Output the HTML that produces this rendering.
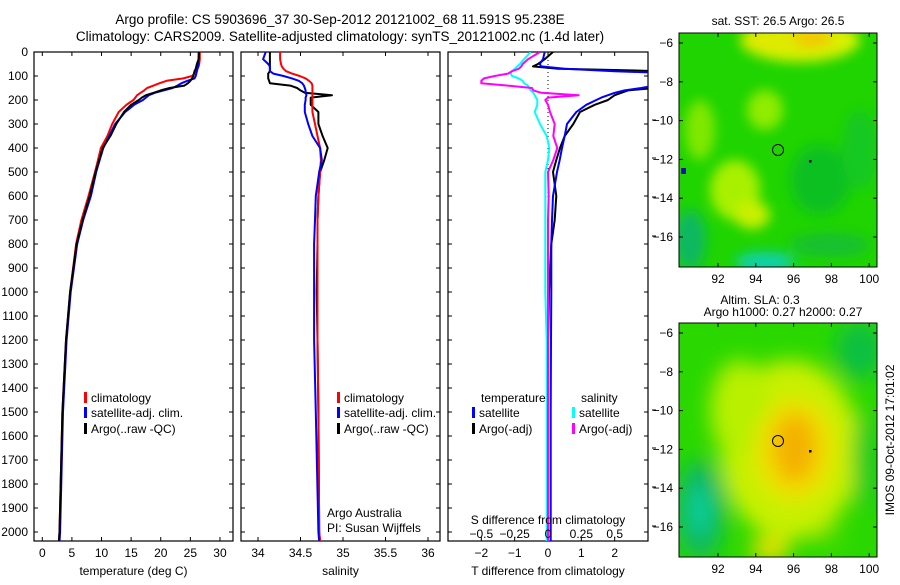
<!DOCTYPE html>
<html><head><meta charset="utf-8"><style>
body{margin:0;background:#fff;}
svg text{font-family:"Liberation Sans",sans-serif;font-size:12px;fill:#000;}
</style></head><body>
<svg id="fig" width="900" height="580" viewBox="0 0 900 580" xmlns="http://www.w3.org/2000/svg">
<defs>
<filter id="bl" x="-50%" y="-50%" width="200%" height="200%"><feGaussianBlur stdDeviation="10"/></filter>
<filter id="bl2" x="-50%" y="-50%" width="200%" height="200%"><feGaussianBlur stdDeviation="6"/></filter>
<clipPath id="cm1"><rect x="679" y="33" width="198" height="234"/></clipPath>
<clipPath id="cm2"><rect x="679" y="323" width="198" height="234"/></clipPath>
</defs>
<text x="340" y="24" text-anchor="middle" font-size="13.5" style="font-size:13.5px">Argo profile: CS 5903696_37 30-Sep-2012 20121002_68 11.591S 95.238E</text>
<text x="340" y="41" text-anchor="middle" style="font-size:13.5px">Climatology: CARS2009. Satellite-adjusted climatology: synTS_20121002.nc (1.4d later)</text>
<g id="plots"></g>
<!-- maps -->
<g clip-path="url(#cm1)">
<rect x="679" y="33" width="198" height="234" fill="#1fd400"/>
<g filter="url(#bl2)">
<ellipse cx="800" cy="40" rx="60" ry="22" fill="#d8f000"/>
<ellipse cx="808" cy="38" rx="25" ry="10" fill="#f2c800"/>
<ellipse cx="770" cy="40" rx="30" ry="8" fill="#e0e800"/>
<ellipse cx="735" cy="190" rx="25" ry="30" fill="#a8f000"/>
<ellipse cx="752" cy="215" rx="18" ry="14" fill="#c8f000"/>
<ellipse cx="765" cy="110" rx="18" ry="20" fill="#90ec00"/>
<ellipse cx="700" cy="130" rx="15" ry="30" fill="#80e800"/>
<ellipse cx="820" cy="180" rx="30" ry="35" fill="#10c020"/>
<ellipse cx="860" cy="150" rx="18" ry="40" fill="#18c820"/>
<ellipse cx="690" cy="240" rx="16" ry="30" fill="#10b860"/>
<ellipse cx="765" cy="262" rx="30" ry="10" fill="#10d0b0"/>
<ellipse cx="830" cy="245" rx="40" ry="12" fill="#18c030"/>
</g>
<rect x="681" y="168" width="5" height="6" fill="#1010b0"/>
</g>
<rect x="679" y="33" width="198" height="234" fill="none" stroke="#000" stroke-width="1"/>
<circle cx="778" cy="150" r="5.5" fill="none" stroke="#000"/>
<rect x="809" y="160" width="2.5" height="2.5" fill="#000"/>
<text x="778" y="25" text-anchor="middle">sat. SST: 26.5 Argo: 26.5</text>

<g clip-path="url(#cm2)">
<rect x="679" y="323" width="198" height="234" fill="#2ad800"/>
<g filter="url(#bl)">
<ellipse cx="790" cy="450" rx="70" ry="90" fill="#c8f000"/>
<ellipse cx="740" cy="410" rx="30" ry="50" fill="#b8f000"/>
<ellipse cx="795" cy="450" rx="40" ry="50" fill="#f0e000"/>
<ellipse cx="795" cy="448" rx="22" ry="35" fill="#f4b000"/>
<ellipse cx="700" cy="510" rx="25" ry="50" fill="#10b860"/>
<ellipse cx="700" cy="510" rx="10" ry="25" fill="#10d0a0"/>
<ellipse cx="860" cy="350" rx="25" ry="30" fill="#10c040"/>
<ellipse cx="865" cy="460" rx="12" ry="50" fill="#14c828"/>
<ellipse cx="770" cy="550" rx="20" ry="12" fill="#f0e000"/>
<ellipse cx="830" cy="540" rx="15" ry="15" fill="#40dc00"/>
</g>
</g>
<rect x="679" y="323" width="198" height="234" fill="none" stroke="#000" stroke-width="1"/>
<circle cx="778" cy="441" r="5.5" fill="none" stroke="#000"/>
<rect x="809" y="450" width="2.5" height="2.5" fill="#000"/>
<text x="760" y="304" text-anchor="middle">Altim. SLA: 0.3</text>
<text x="783" y="316" text-anchor="middle">Argo h1000: 0.27 h2000: 0.27</text>
<g id="mapaxes"></g>
<text transform="translate(894,440) rotate(-90)" text-anchor="middle">IMOS 09-Oct-2012 17:01:02</text>
</svg>
<script>
const depths = [0,30,50,60,70,80,90,100,110,120,130,140,150,160,170,180,190,200,220,250,300,350,400,450,500,600,700,800,1000,1200,1500,2000,2040];
const tempClim = [26.6,26.6,26.5,26.4,26.2,26.0,25.7,25.3,23.8,21.0,19.8,18.8,17.7,17.2,16.6,16.0,15.7,15.4,14.2,12.9,11.8,11.0,9.9,9.4,8.9,7.8,6.6,5.7,4.7,4.0,3.4,2.9,2.8];
const tempSat = [26.4,26.4,26.4,26.3,26.2,26.1,26.0,25.9,25.7,24.5,23.5,22.8,22.0,20.5,19.0,18.0,17.5,17.0,15.5,14.0,12.3,11.3,10.3,9.7,9.1,8.2,6.9,5.9,4.8,4.1,3.5,3.0,2.9];
const tempArgo = [26.5,26.4,26.1,26.0,25.9,25.7,25.6,25.5,25.3,25.0,24.6,24.0,21.5,20.0,18.8,17.5,16.8,16.3,15.0,13.8,12.5,11.5,10.2,9.6,9.0,8.0,6.8,5.8,4.7,4.0,3.4,2.9,2.8];
const salClim = [34.26,34.26,34.27,34.28,34.30,34.33,34.40,34.49,34.56,34.60,34.63,34.64,34.64,34.64,34.64,34.64,34.64,34.64,34.64,34.64,34.67,34.70,34.73,34.74,34.73,34.71,34.70,34.70,34.70,34.70,34.71,34.72,34.73];
const salSat = [34.09,34.06,34.12,34.14,34.14,34.14,34.18,34.30,34.40,34.48,34.52,34.54,34.55,34.56,34.56,34.57,34.56,34.56,34.55,34.55,34.59,34.64,34.73,34.75,34.72,34.68,34.67,34.66,34.66,34.66,34.68,34.71,34.72];
const salArgo = [34.14,34.14,34.14,34.14,34.14,34.14,34.12,34.12,34.12,34.13,34.14,34.38,34.46,34.50,34.55,34.87,34.62,34.62,34.62,34.71,34.71,34.76,34.82,34.78,34.73,34.71,34.70,34.70,34.69,34.70,34.71,34.72,34.73];
const dTSat = [-0.1,-0.15,-0.25,-0.2,0.5,2.0,4.0,6.0,6.0,5.0,4.0,3.2,2.8,2.3,2.0,1.8,1.6,1.45,1.15,0.85,0.57,0.5,0.42,0.35,0.27,0.15,0.12,0.1,0.1,0.09,0.08,0.08,0.08];
const dTArgo = [0.15,-0.1,-0.3,-0.45,0.3,3.5,5.0,6.0,6.0,5.0,4.5,4.0,3.2,2.4,2.2,2.0,1.9,1.8,1.4,0.96,0.76,0.5,0.36,0.25,0.15,0.25,0.2,0.1,0.03,0.0,0.0,0.0,0.0];
const dSSat = [-0.13,-0.18,-0.21,-0.23,-0.25,-0.27,-0.28,-0.27,-0.22,-0.19,-0.18,-0.15,-0.14,-0.13,-0.11,-0.10,-0.09,-0.08,-0.08,-0.10,-0.06,-0.01,0.01,0.0,-0.02,-0.02,-0.02,-0.02,-0.02,-0.01,-0.01,-0.01,-0.01];
const dSArgo = [-0.06,-0.15,-0.19,-0.20,-0.22,-0.27,-0.30,-0.40,-0.48,-0.50,-0.50,-0.30,-0.12,-0.11,-0.05,0.23,0.0,-0.02,0.0,0.015,0.05,0.04,0.07,0.04,0.0,0.005,0.0,0.0,0.0,0.0,0.0,0.0,0.0];
const depthTicks = [0,100,200,300,400,500,600,700,800,900,1000,1100,1200,1300,1400,1500,1600,1700,1800,1900,2000];
const tempTicks = [0,5,10,15,20,25,30];
const salTicks = [34,34.5,35,35.5,36];
const dTTicks = [-2,-1,0,1,2];
const dSTicks = [-0.5,-0.25,0,0.25,0.5];
const lonTicks = [92,94,96,98,100];
const latTicks = [-6,-8,-10,-12,-14,-16];

const NS='http://www.w3.org/2000/svg';
const g=document.getElementById('plots');
function el(tag,attrs,parent){const e=document.createElementNS(NS,tag);for(const k in attrs)e.setAttribute(k,attrs[k]);(parent||g).appendChild(e);return e;}
const Y0=52,Y1=541;
function yD(d){return Y0+(d)*0.24;}
const panels=[
 {name:'temperature',x0:34,x1:233,v0:-1.4,v1:32.2,ticks:tempTicks,label:'temperature (deg C)'},
 {name:'salinity',x0:241,x1:440,v0:33.8,v1:36.141,ticks:salTicks,label:'salinity'},
 {name:'tdiff',x0:448,x1:648,v0:-3,v1:3,ticks:dTTicks,label:'T difference from climatology'}
];
function xf(p,v){return p.x0+(v-p.v0)/(p.v1-p.v0)*(p.x1-p.x0);}
function xS(v){return xf(panels[2],v*4);}
panels.forEach((p,i)=>{
 const cp=el('clipPath',{id:'cp'+i});el('rect',{x:p.x0,y:Y0,width:p.x1-p.x0,height:Y1-Y0},cp);
 const fr=el('rect',{x:p.x0,y:Y0,width:p.x1-p.x0,height:Y1-Y0,fill:'none',stroke:'#000','stroke-width':1.2});
 
 
 p.ticks.forEach(t=>{const x=xf(p,t);
  el('line',{x1:x,x2:x,y1:Y1,y2:Y1-4,stroke:'#000'});el('line',{x1:x,x2:x,y1:Y0,y2:Y0+4,stroke:'#000'});
  const tx=el('text',{x:x,y:557,'text-anchor':'middle'});tx.textContent=String(t).replace('-','\u2212');
  
  
 });
 depthTicks.forEach(d=>{const y=yD(d);
  el('line',{x1:p.x0,x2:p.x0+4,y1:y,y2:y,stroke:'#000'});el('line',{x1:p.x1,x2:p.x1-4,y1:y,y2:y,stroke:'#000'});
  if(i==0){const tx=el('text',{x:28,y:y+4,'text-anchor':'end'});tx.textContent=d;
   
   }
 });
 const lab=el('text',{x:(p.x0+p.x1)/2,y:575,'text-anchor':'middle'});lab.textContent=p.label;
 
 
});
function series(p,i,vals,color,name,xfun){
 const pts=vals.map((v,k)=>(xfun?xfun(v):xf(p,v)).toFixed(1)+','+yD(depths[k]).toFixed(1)).join(' ');
 const pl=el('polyline',{points:pts,fill:'none',stroke:color,'stroke-width':2,'clip-path':'url(#cp'+i+')','stroke-linejoin':'round'});
 
 
}
// zero dotted line panel3
el('line',{x1:548,x2:548,y1:Y0,y2:200,stroke:'#000','stroke-dasharray':'1,3'});
series(panels[0],0,tempClim,'#f00','temp-climatology-line');
series(panels[0],0,tempSat,'#00f','temp-satellite-line');
series(panels[0],0,tempArgo,'#000','temp-argo-line');
series(panels[1],1,salArgo,'#000','sal-argo-line');
series(panels[1],1,salClim,'#f00','sal-climatology-line');
series(panels[1],1,salSat,'#00f','sal-satellite-line');
series(panels[2],2,dTArgo,'#000','tdiff-argo-line');
series(panels[2],2,dTSat,'#00f','tdiff-satellite-line');
series(panels[2],2,dSSat,'#0ff','sdiff-satellite-line',xS);
series(panels[2],2,dSArgo,'#f0f','sdiff-argo-line',xS);
dSTicks.forEach(t=>{const tx=el('text',{x:xS(t),y:538,'text-anchor':'middle'});tx.textContent=String(t).replace('-','\u2212');
 
 });
function txt(x,y,s,name,anchor){const t=el('text',{x:x,y:y,'text-anchor':anchor||'start'});t.textContent=s;
 
 return t;}
txt(548,524,'S difference from climatology','sdiff-axis-title','middle');
function leg(x,y,c,s,name){el('rect',{x:x,y:y-10,width:3,height:11,fill:c});txt(x+7,y,s,name);}
leg(84,402,'#f00','climatology','legend-climatology');
leg(84,417,'#00f','satellite-adj. clim.','legend-satellite');
leg(84,433,'#000','Argo(..raw -QC)','legend-argo');
leg(337,402,'#f00','climatology','legend2-climatology');
leg(337,417,'#00f','satellite-adj. clim.','legend2-satellite');
leg(337,433,'#000','Argo(..raw -QC)','legend2-argo');
txt(481,402,'temperature','legend-temperature-header');
txt(581,402,'salinity','legend-salinity-header');
leg(472,417,'#00f','satellite','legend-t-satellite');
leg(472,433,'#000','Argo(-adj)','legend-t-argo');
leg(572,417,'#0ff','satellite','legend-s-satellite');
leg(572,433,'#f0f','Argo(-adj)','legend-s-argo');
txt(327,517,'Argo Australia','credit-argo-australia');
txt(327,532,'PI: Susan Wijffels','credit-pi');
[120,158,197,236,410,448,487,526].forEach(y=>el('line',{x1:652,x2:656,y1:y,y2:y,stroke:'#000'}));
// map axes
const ma=document.getElementById('mapaxes');
[33,323].forEach((top,mi)=>{
 lonTicks.forEach(l=>{const x=718+(l-92)*18.9;
  el('line',{x1:x,x2:x,y1:top,y2:top+4,stroke:'#000'},ma);el('line',{x1:x,x2:x,y1:top+234,y2:top+230,stroke:'#000'},ma);
  const t=el('text',{x:x,y:top+250,'text-anchor':'middle'},ma);t.textContent=l;
  
  });
 latTicks.forEach(l=>{const y=top+10+(-6-l)*19.4;
  el('line',{x1:679,x2:683,y1:y,y2:y,stroke:'#000'},ma);el('line',{x1:877,x2:873,y1:y,y2:y,stroke:'#000'},ma);
  const t=el('text',{x:673,y:y+4,'text-anchor':'end'},ma);t.textContent=String(l).replace('-','\u2212');
  
  });
});
</script>
</body></html>
